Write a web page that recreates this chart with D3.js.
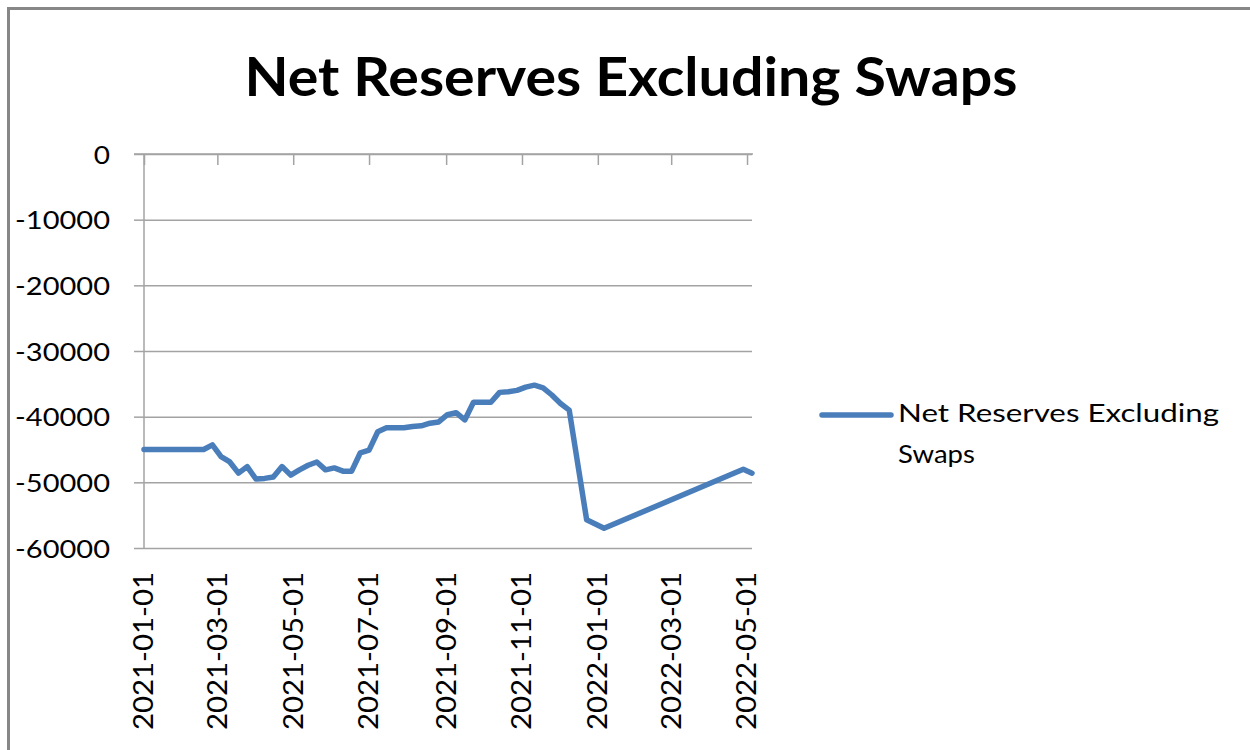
<!DOCTYPE html>
<html>
<head>
<meta charset="utf-8">
<script src="https://cdn.jsdelivr.net/npm/d3@7"></script>
<style>
  html, body { margin: 0; padding: 0; background: #fff; }
  svg { display: block; font-family: Lato, "Open Sans", sans-serif; }
</style>
</head>
<body>
<svg id="chart" width="1250" height="750"></svg>
<script>
// Weekly readings of net reserves excluding swaps
const dates = [
  "2021-01-01","2021-01-07","2021-01-14","2021-01-21","2021-01-28","2021-02-04",
  "2021-02-11","2021-02-18","2021-02-25","2021-03-04","2021-03-11","2021-03-18",
  "2021-03-25","2021-04-01","2021-04-08","2021-04-15","2021-04-22","2021-04-29",
  "2021-05-06","2021-05-13","2021-05-20","2021-05-27","2021-06-03","2021-06-10",
  "2021-06-17","2021-06-24","2021-07-01","2021-07-08","2021-07-15","2021-07-22",
  "2021-07-29","2021-08-05","2021-08-12","2021-08-19","2021-08-26","2021-09-02",
  "2021-09-09","2021-09-16","2021-09-23","2021-09-30","2021-10-07","2021-10-14",
  "2021-10-21","2021-10-28","2021-11-04","2021-11-11","2021-11-18","2021-11-25",
  "2021-12-02","2021-12-09","2021-12-23","2022-01-06","2022-04-28","2022-05-05"
];
const netReserves = [
  -45000,-45000,-45000,-45000,-45000,-45000,
  -45000,-45000,-44300,-46100,-46900,-48600,
  -47600,-49500,-49400,-49200,-47600,-48900,
  -48100,-47400,-46900,-48100,-47800,-48300,
  -48300,-45500,-45100,-42300,-41700,-41700,
  -41700,-41500,-41400,-41000,-40800,-39700,
  -39400,-40500,-37800,-37800,-37800,-36300,
  -36200,-36000,-35500,-35200,-35600,-36700,
  -38000,-39000,-55700,-57000,-48000,-48600
];
const xTickLabels = [
  "2021-01-01","2021-03-01","2021-05-01","2021-07-01","2021-09-01",
  "2021-11-01","2022-01-01","2022-03-01","2022-05-01"
];
const yTickValues = [0, -10000, -20000, -30000, -40000, -50000, -60000];
const seriesName = "Net Reserves Excluding Swaps";
const legendLines = ["Net Reserves Excluding", "Swaps"];

const parse = d3.utcParse("%Y-%m-%d");
const points = dates.map((d, i) => ({ date: parse(d), value: netReserves[i] }));

const svg = d3.select("#chart");
const plot = { left: 144, right: 752, top: 154, bottom: 548 };
const gridColor = "#a3a3a3";
const lineColor = "#4a7ebb";

// Stretch a text element so its advance width matches a target
function fitTo(sel, width) {
  sel.each(function () {
    this.setAttribute("textLength", width);
    this.setAttribute("lengthAdjust", "spacingAndGlyphs");
  });
}
function widen(sel, k) {
  sel.each(function () {
    const w = this.getComputedTextLength();
    this.setAttribute("textLength", w * k);
    this.setAttribute("lengthAdjust", "spacingAndGlyphs");
  });
}

// Outer frame
svg.append("rect")
  .attr("x", 8.5).attr("y", 8.5)
  .attr("width", 1300).attr("height", 800)
  .attr("fill", "#fff")
  .attr("stroke", "#878787").attr("stroke-width", 3);

const x = d3.scaleUtc()
  .domain(d3.extent(points, d => d.date))
  .range([plot.left, plot.right]);
const y = d3.scaleLinear()
  .domain([-60000, 0])
  .range([plot.bottom, plot.top]);

// Title
const title = svg.append("text")
  .attr("x", 631).attr("y", 96)
  .attr("text-anchor", "middle")
  .attr("font-size", 53).attr("font-weight", "bold")
  .attr("fill", "#000")
  .text(seriesName);
fitTo(title, 773);

// Horizontal gridlines with outside ticks on the value axis
const yAxis = svg.append("g")
  .attr("transform", `translate(${plot.left},0)`)
  .call(d3.axisLeft(y).tickValues(yTickValues).tickSize(10).tickPadding(24)
    .tickFormat(d => String(d)));
yAxis.select(".domain").remove();
yAxis.selectAll(".tick line").attr("stroke", gridColor).attr("stroke-width", 1.5);
yAxis.selectAll(".tick").append("line")
  .attr("x1", 0).attr("x2", plot.right - plot.left)
  .attr("stroke", gridColor).attr("stroke-width", 1.5);
const yLabels = yAxis.selectAll(".tick text")
  .attr("font-family", "Lato, 'Open Sans', sans-serif")
  .attr("font-size", 25).attr("fill", "#000")
  .attr("dy", "0.36em");
fitTo(yLabels.filter(d => d !== 0), 95);
widen(yLabels.filter(d => d === 0), 1.12);

// Vertical axis line
svg.append("line")
  .attr("x1", plot.left).attr("x2", plot.left)
  .attr("y1", plot.top).attr("y2", plot.bottom)
  .attr("stroke", gridColor).attr("stroke-width", 1.5);

// Category axis sits on the zero line with ticks pointing into the plot
const xAxis = svg.append("g")
  .attr("transform", `translate(0,${y(0)})`)
  .call(d3.axisBottom(x).tickValues(xTickLabels.map(parse)).tickSize(11)
    .tickFormat(""));
xAxis.select(".domain")
  .attr("d", `M${plot.left - 10},0H${plot.right + 1}`)
  .attr("stroke", gridColor).attr("stroke-width", 1.5);
xAxis.selectAll(".tick line").attr("stroke", gridColor).attr("stroke-width", 1.5);

// Rotated date labels below the plot
const xLabels = svg.append("g")
  .selectAll("text")
  .data(xTickLabels)
  .join("text")
  .attr("transform", d => `translate(${x(parse(d))},572) rotate(-90)`)
  .attr("text-anchor", "end")
  .attr("dy", "0.36em")
  .attr("font-size", 26).attr("fill", "#000")
  .text(d => d);
fitTo(xLabels, 158);

// Series line
const line = d3.line()
  .x(d => x(d.date))
  .y(d => y(d.value));
svg.append("path")
  .datum(points)
  .attr("d", line)
  .attr("fill", "none")
  .attr("stroke", lineColor)
  .attr("stroke-width", 5.5)
  .attr("stroke-linejoin", "round")
  .attr("stroke-linecap", "round");

// Legend
const legend = svg.append("g");
legend.append("line")
  .attr("x1", 822).attr("x2", 891)
  .attr("y1", 415).attr("y2", 415)
  .attr("stroke", lineColor).attr("stroke-width", 5.5)
  .attr("stroke-linecap", "round");
const legendText = legend.selectAll("text")
  .data(legendLines)
  .join("text")
  .attr("x", 898)
  .attr("y", (d, i) => 422 + i * 41)
  .attr("font-size", 25).attr("fill", "#000")
  .text(d => d);
fitTo(legendText.filter((d, i) => i === 0), 321);
widen(legendText.filter((d, i) => i === 1), 1.1);
</script>
</body>
</html>
